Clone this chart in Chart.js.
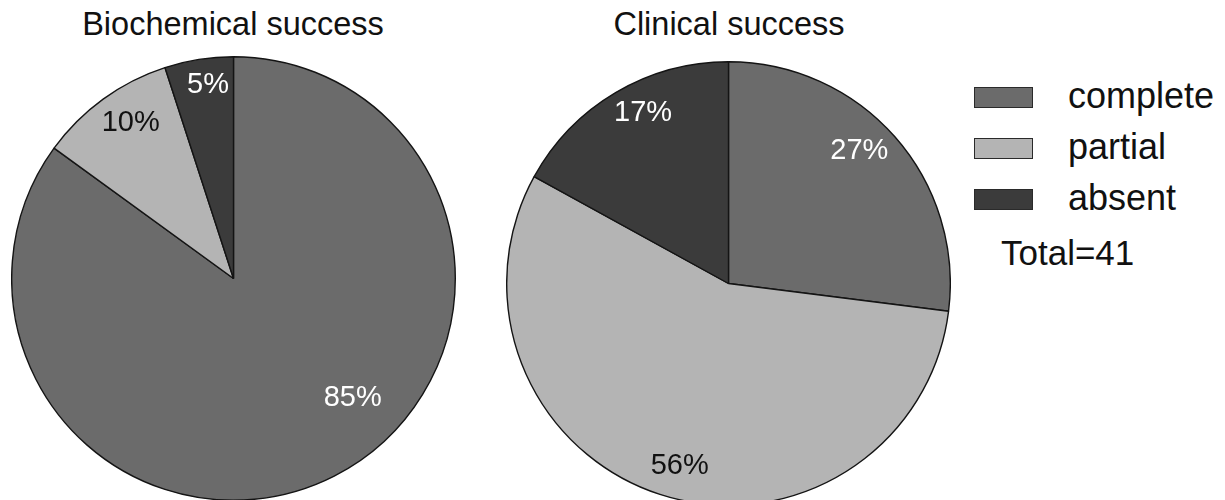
<!DOCTYPE html>
<html>
<head>
<meta charset="utf-8">
<script src="https://cdn.jsdelivr.net/npm/chart.js@4/dist/chart.umd.min.js"></script>
<style>
  html, body { margin: 0; padding: 0; background: #fff; }
  body { width: 1225px; height: 500px; overflow: hidden; position: relative;
         font-family: "Liberation Sans", Arial, sans-serif; color: #111; }
  .title { position: absolute; top: 6px; font-size: 32.5px; white-space: nowrap;
           transform: translateX(-50%); line-height: 36px; }
  .pie { position: absolute; width: 445px; height: 445px; }
  .legend { position: absolute; left: 974px; top: 0; }
  .legend .row { position: absolute; left: 0; height: 21px; white-space: nowrap; }
  .legend .box { position: absolute; left: 0; top: 0; width: 57px; height: 19px;
                 border: 1px solid #2a2a2a; }
  .legend .txt { position: absolute; left: 94px; top: -12px; font-size: 36px; line-height: 42px; }
  .total { position: absolute; left: 1001px; top: 232px; font-size: 35px; line-height: 42px; white-space: nowrap; }
</style>
</head>
<body>
<div class="title" style="left:233px">Biochemical success</div>
<div class="title" style="left:729px">Clinical success</div>
<div class="pie" style="left:11px; top:56px"><canvas id="bio"></canvas></div>
<div class="pie" style="left:506px; top:61px"><canvas id="clin"></canvas></div>
<div class="legend" id="legend"></div>
<div class="total" id="total"></div>

<script>
// Outcome categories and their shares (%) of the 41 patients
const categories = ['complete', 'partial', 'absent'];
const biochemical = [85, 10, 5];
const clinical = [27, 56, 17];
const totalPatients = 41;

const sliceColors = ['#6b6b6b', '#b4b4b4', '#3b3b3b'];
const labelColors = ['#ffffff', '#111111', '#ffffff'];

// Draws the percentage text inside each slice; nudges move a label
// along the slice (degrees) and set how far out from the centre it sits.
const sliceLabels = {
  id: 'sliceLabels',
  afterDatasetsDraw(chart, args, opts) {
    const ctx = chart.ctx;
    const meta = chart.getDatasetMeta(0);
    const values = chart.data.datasets[0].data;
    ctx.save();
    ctx.font = opts.font;
    ctx.textAlign = 'center';
    ctx.textBaseline = 'middle';
    meta.data.forEach((arc, i) => {
      const p = arc.getProps(['x', 'y', 'startAngle', 'endAngle', 'outerRadius'], true);
      const nudge = opts.nudges[i] || { turn: 0, depth: 0.85 };
      const a = (p.startAngle + p.endAngle) / 2 + nudge.turn * Math.PI / 180;
      const r = p.outerRadius * nudge.depth;
      ctx.fillStyle = opts.colors[i];
      ctx.fillText(values[i] + '%', p.x + Math.cos(a) * r, p.y + Math.sin(a) * r);
    });
    ctx.restore();
  }
};

function makePie(id, values, nudges) {
  return new Chart(document.getElementById(id), {
    type: 'pie',
    data: {
      labels: categories,
      datasets: [{
        data: values,
        backgroundColor: sliceColors,
        borderColor: '#141414',
        borderWidth: 1.4
      }]
    },
    options: {
      responsive: true,
      maintainAspectRatio: false,
      animation: false,
      events: [],
      layout: { padding: 0 },
      plugins: {
        legend: { display: false },
        tooltip: { enabled: false },
        sliceLabels: {
          font: '29px "Liberation Sans", Arial, sans-serif',
          colors: labelColors,
          nudges: nudges
        }
      }
    },
    plugins: [sliceLabels]
  });
}

makePie('bio', biochemical, [
  { turn: -18, depth: 0.76 },
  { turn: 2.5, depth: 0.84 },
  { turn: 1.5, depth: 0.88 }
]);
makePie('clin', clinical, [
  { turn: -4, depth: 0.84 },
  { turn: -3, depth: 0.85 },
  { turn: 4, depth: 0.86 }
]);

// Legend rows built from the same categories and colours
const legend = document.getElementById('legend');
categories.forEach((name, i) => {
  const row = document.createElement('div');
  row.className = 'row';
  row.style.top = (87 + i * 51) + 'px';
  const box = document.createElement('div');
  box.className = 'box';
  box.style.background = sliceColors[i];
  const txt = document.createElement('div');
  txt.className = 'txt';
  txt.textContent = name;
  row.appendChild(box);
  row.appendChild(txt);
  legend.appendChild(row);
});
document.getElementById('total').textContent = 'Total=' + totalPatients;
</script>
</body>
</html>
